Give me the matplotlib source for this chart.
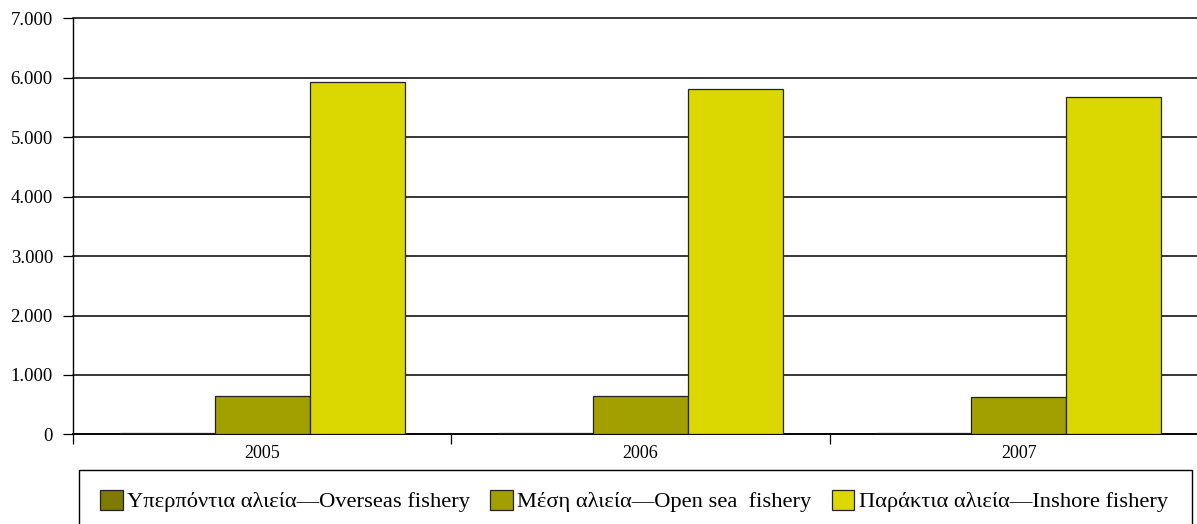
import matplotlib
matplotlib.use("Agg")
import matplotlib.pyplot as plt
import numpy as np
from matplotlib.patches import Rectangle
from matplotlib.ticker import FuncFormatter

years = ["2005", "2006", "2007"]
series_names = ["Υπερπόντια αλιεία—Overseas fishery",
                "Μέση αλιεία—Open sea  fishery",
                "Παράκτια αλιεία—Inshore fishery"]
overseas = [22, 20, 18]
open_sea = [640, 645, 633]
inshore = [5931, 5808, 5684]
colors = ["#7f7a00", "#a29f00", "#dbd700"]

plt.rcParams['font.family'] = ['Liberation Serif', 'DejaVu Serif']

W, H = 1197, 524
fig = plt.figure(figsize=(W / 100, H / 100), dpi=100)
ax = fig.add_axes([73 / W, 1 - 434.3 / H, (1208 - 73) / W, (434.3 - 18.5) / H])

x = np.arange(len(years))
bw = 0.251
handles = []
for i, (vals, name, c) in enumerate(zip([overseas, open_sea, inshore], series_names, colors)):
    h = ax.bar(x + (i - 1) * bw, vals, width=bw, color=c, edgecolor="#222222",
               linewidth=0.9, label=name, zorder=3)
    handles.append(h)

ax.set_xlim(-0.5, 2.5)
ax.set_ylim(0, 7000)
ax.set_yticks(np.arange(0, 7001, 1000))
ax.yaxis.set_major_formatter(FuncFormatter(lambda v, p: f"{int(v):,}".replace(",", ".")))
ax.grid(axis="y", color="black", linewidth=1.1, zorder=0)
ax.set_axisbelow(True)
for gl in ax.get_ygridlines():
    gl.set_clip_on(False)

ax.set_xticks([-0.5, 0.5, 1.5, 2.5])
ax.set_xticklabels([])
ax.set_xticks(x, minor=True)
ax.set_xticklabels(years, minor=True, fontsize=13)
ax.tick_params(axis="x", which="major", direction="out", length=7.5, width=0.9)
ax.tick_params(axis="x", which="minor", length=0, pad=8)
ax.tick_params(axis="y", direction="out", length=7.5, width=0.9, labelsize=13.5, pad=7)

for s in ["top", "right"]:
    ax.spines[s].set_visible(False)
ax.spines["left"].set_linewidth(1.0)
ax.spines["bottom"].set_linewidth(1.2)

# legend frame (partly cropped at the bottom in the reference)
fig.patches.append(Rectangle((78.7 / W, 1 - 534 / H), (1192 - 78.7) / W, (534 - 470) / H,
                             transform=fig.transFigure, fill=False, edgecolor="black",
                             linewidth=1.0))
leg = fig.legend(handles=handles, labels=series_names, loc="center left",
                 bbox_to_anchor=(100 / W, 1 - 501 / H), ncol=3, frameon=False,
                 fontsize=16.2, handlelength=1.0, handleheight=1.0, handletextpad=0.2,
                 columnspacing=0.9, borderaxespad=0, borderpad=0)

fig.savefig("out.png", dpi=100)
